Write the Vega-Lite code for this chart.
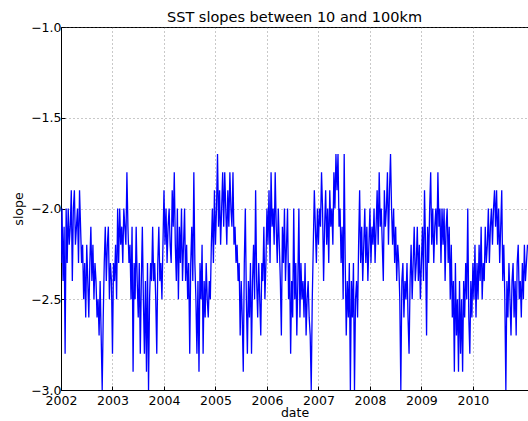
{
  "$schema": "https://vega.github.io/schema/vega-lite/v6.json",
  "autosize": "none",
  "width": 467,
  "height": 363,
  "padding": {"left": 61, "top": 27, "right": 0, "bottom": 31},
  "background": "white",
  "config": {
    "font": "DejaVu Sans",
    "view": {"stroke": "black", "strokeWidth": 1},
    "axis": {
      "labelFont": "DejaVu Sans", "labelFontSize": 12.5, "labelColor": "black",
      "titleFont": "DejaVu Sans", "titleFontSize": 12.5, "titleFontWeight": "normal", "titleColor": "black",
      "domainColor": "black", "tickColor": "black", "tickSize": -4,
      "gridColor": "#666666", "gridDash": [1, 3], "gridWidth": 0.7
    }
  },
  "title": {"text": "SST slopes between 10 and 100km", "fontSize": 14.5, "fontWeight": "normal", "font": "DejaVu Sans", "color": "black", "offset": -4},
  "data": {"values": [
{"t":2002.00,"v":-2.3},{"t":2002.02,"v":-2.0},{"t":2002.04,"v":-2.4},{"t":2002.06,"v":-2.1},{"t":2002.08,"v":-2.8},{"t":2002.10,"v":-2.0},{"t":2002.12,"v":-2.3},{"t":2002.14,"v":-2.0},{"t":2002.16,"v":-2.2},{"t":2002.18,"v":-2.1},
{"t":2002.20,"v":-1.9},{"t":2002.22,"v":-2.4},{"t":2002.24,"v":-2.0},{"t":2002.26,"v":-1.9},{"t":2002.28,"v":-2.2},{"t":2002.30,"v":-2.1},{"t":2002.32,"v":-2.0},{"t":2002.34,"v":-2.3},{"t":2002.36,"v":-1.9},{"t":2002.38,"v":-2.1},
{"t":2002.40,"v":-2.3},{"t":2002.42,"v":-2.2},{"t":2002.44,"v":-2.5},{"t":2002.46,"v":-2.3},{"t":2002.48,"v":-2.6},{"t":2002.50,"v":-2.2},{"t":2002.52,"v":-2.4},{"t":2002.54,"v":-2.6},{"t":2002.56,"v":-2.3},{"t":2002.58,"v":-2.1},
{"t":2002.60,"v":-2.4},{"t":2002.62,"v":-2.2},{"t":2002.64,"v":-2.5},{"t":2002.66,"v":-2.3},{"t":2002.68,"v":-2.4},{"t":2002.70,"v":-2.6},{"t":2002.72,"v":-2.5},{"t":2002.74,"v":-2.7},{"t":2002.76,"v":-2.4},{"t":2002.78,"v":-2.7},
{"t":2002.80,"v":-3.0},{"t":2002.82,"v":-2.6},{"t":2002.84,"v":-2.3},{"t":2002.86,"v":-2.1},{"t":2002.88,"v":-2.4},{"t":2002.90,"v":-2.2},{"t":2002.92,"v":-2.1},{"t":2002.94,"v":-2.5},{"t":2002.96,"v":-2.3},{"t":2002.98,"v":-2.4},
{"t":2003.00,"v":-2.8},{"t":2003.02,"v":-2.3},{"t":2003.04,"v":-2.4},{"t":2003.06,"v":-2.2},{"t":2003.08,"v":-2.5},{"t":2003.10,"v":-2.0},{"t":2003.12,"v":-2.3},{"t":2003.14,"v":-2.0},{"t":2003.16,"v":-2.2},{"t":2003.18,"v":-2.1},
{"t":2003.20,"v":-2.3},{"t":2003.22,"v":-2.0},{"t":2003.24,"v":-2.1},{"t":2003.26,"v":-2.2},{"t":2003.28,"v":-1.8},{"t":2003.30,"v":-2.1},{"t":2003.32,"v":-2.3},{"t":2003.34,"v":-2.2},{"t":2003.36,"v":-2.5},{"t":2003.38,"v":-2.1},
{"t":2003.40,"v":-2.9},{"t":2003.42,"v":-2.3},{"t":2003.44,"v":-2.5},{"t":2003.46,"v":-2.1},{"t":2003.48,"v":-2.4},{"t":2003.50,"v":-2.6},{"t":2003.52,"v":-2.3},{"t":2003.54,"v":-2.8},{"t":2003.56,"v":-2.4},{"t":2003.58,"v":-2.1},
{"t":2003.60,"v":-2.5},{"t":2003.62,"v":-2.8},{"t":2003.64,"v":-2.4},{"t":2003.66,"v":-2.9},{"t":2003.68,"v":-2.3},{"t":2003.70,"v":-3.0},{"t":2003.72,"v":-2.5},{"t":2003.74,"v":-2.3},{"t":2003.76,"v":-2.4},{"t":2003.78,"v":-2.1},
{"t":2003.80,"v":-2.4},{"t":2003.82,"v":-2.3},{"t":2003.84,"v":-2.5},{"t":2003.86,"v":-2.8},{"t":2003.88,"v":-2.3},{"t":2003.90,"v":-2.1},{"t":2003.92,"v":-2.4},{"t":2003.94,"v":-2.3},{"t":2003.96,"v":-2.5},{"t":2003.98,"v":-2.2},
{"t":2004.00,"v":-1.9},{"t":2004.02,"v":-2.2},{"t":2004.04,"v":-2.0},{"t":2004.06,"v":-2.3},{"t":2004.08,"v":-2.1},{"t":2004.10,"v":-2.0},{"t":2004.12,"v":-2.2},{"t":2004.14,"v":-2.3},{"t":2004.16,"v":-1.9},{"t":2004.18,"v":-2.1},
{"t":2004.20,"v":-1.8},{"t":2004.22,"v":-2.2},{"t":2004.24,"v":-2.4},{"t":2004.26,"v":-2.0},{"t":2004.28,"v":-2.5},{"t":2004.30,"v":-2.1},{"t":2004.32,"v":-2.3},{"t":2004.34,"v":-2.0},{"t":2004.36,"v":-2.4},{"t":2004.38,"v":-2.2},
{"t":2004.40,"v":-2.0},{"t":2004.42,"v":-2.4},{"t":2004.44,"v":-2.2},{"t":2004.46,"v":-2.5},{"t":2004.48,"v":-2.3},{"t":2004.50,"v":-2.8},{"t":2004.52,"v":-2.3},{"t":2004.54,"v":-2.1},{"t":2004.56,"v":-2.4},{"t":2004.58,"v":-1.8},
{"t":2004.60,"v":-2.3},{"t":2004.62,"v":-2.5},{"t":2004.64,"v":-2.8},{"t":2004.66,"v":-2.4},{"t":2004.68,"v":-2.9},{"t":2004.70,"v":-2.3},{"t":2004.72,"v":-2.5},{"t":2004.74,"v":-2.2},{"t":2004.76,"v":-2.8},{"t":2004.78,"v":-2.4},
{"t":2004.80,"v":-2.6},{"t":2004.82,"v":-2.3},{"t":2004.84,"v":-2.5},{"t":2004.86,"v":-2.6},{"t":2004.88,"v":-2.4},{"t":2004.90,"v":-2.5},{"t":2004.92,"v":-2.2},{"t":2004.94,"v":-2.0},{"t":2004.96,"v":-2.3},{"t":2004.98,"v":-1.9},
{"t":2005.00,"v":-2.2},{"t":2005.02,"v":-2.0},{"t":2005.04,"v":-1.7},{"t":2005.06,"v":-2.1},{"t":2005.08,"v":-1.9},{"t":2005.10,"v":-2.2},{"t":2005.12,"v":-2.0},{"t":2005.14,"v":-1.8},{"t":2005.16,"v":-2.1},{"t":2005.18,"v":-1.8},
{"t":2005.20,"v":-2.0},{"t":2005.22,"v":-2.2},{"t":2005.24,"v":-1.9},{"t":2005.26,"v":-2.1},{"t":2005.28,"v":-1.8},{"t":2005.30,"v":-2.0},{"t":2005.32,"v":-2.1},{"t":2005.34,"v":-1.8},{"t":2005.36,"v":-2.2},{"t":2005.38,"v":-2.1},
{"t":2005.40,"v":-2.3},{"t":2005.42,"v":-2.2},{"t":2005.44,"v":-2.4},{"t":2005.46,"v":-2.3},{"t":2005.48,"v":-2.7},{"t":2005.50,"v":-2.4},{"t":2005.52,"v":-2.6},{"t":2005.54,"v":-2.9},{"t":2005.56,"v":-2.3},{"t":2005.58,"v":-2.0},
{"t":2005.60,"v":-2.5},{"t":2005.62,"v":-2.8},{"t":2005.64,"v":-2.4},{"t":2005.66,"v":-2.6},{"t":2005.68,"v":-2.3},{"t":2005.70,"v":-2.8},{"t":2005.72,"v":-2.4},{"t":2005.74,"v":-2.2},{"t":2005.76,"v":-2.5},{"t":2005.78,"v":-1.9},
{"t":2005.80,"v":-2.4},{"t":2005.82,"v":-2.6},{"t":2005.84,"v":-2.3},{"t":2005.86,"v":-2.5},{"t":2005.88,"v":-2.7},{"t":2005.90,"v":-2.3},{"t":2005.92,"v":-2.4},{"t":2005.94,"v":-2.1},{"t":2005.96,"v":-2.5},{"t":2005.98,"v":-2.3},
{"t":2006.00,"v":-2.0},{"t":2006.02,"v":-2.2},{"t":2006.04,"v":-1.9},{"t":2006.06,"v":-2.3},{"t":2006.08,"v":-1.8},{"t":2006.10,"v":-2.1},{"t":2006.12,"v":-2.0},{"t":2006.14,"v":-2.2},{"t":2006.16,"v":-1.8},{"t":2006.18,"v":-2.1},
{"t":2006.20,"v":-2.3},{"t":2006.22,"v":-2.0},{"t":2006.24,"v":-2.2},{"t":2006.26,"v":-2.4},{"t":2006.28,"v":-2.7},{"t":2006.30,"v":-2.1},{"t":2006.32,"v":-2.3},{"t":2006.34,"v":-2.0},{"t":2006.36,"v":-2.4},{"t":2006.38,"v":-2.2},
{"t":2006.40,"v":-2.0},{"t":2006.42,"v":-2.5},{"t":2006.44,"v":-2.3},{"t":2006.46,"v":-2.8},{"t":2006.48,"v":-2.4},{"t":2006.50,"v":-2.6},{"t":2006.52,"v":-2.0},{"t":2006.54,"v":-2.5},{"t":2006.56,"v":-2.3},{"t":2006.58,"v":-2.7},
{"t":2006.60,"v":-2.4},{"t":2006.62,"v":-2.0},{"t":2006.64,"v":-2.6},{"t":2006.66,"v":-2.3},{"t":2006.68,"v":-2.5},{"t":2006.70,"v":-2.4},{"t":2006.72,"v":-2.6},{"t":2006.74,"v":-2.3},{"t":2006.76,"v":-2.7},{"t":2006.78,"v":-2.5},
{"t":2006.80,"v":-2.4},{"t":2006.82,"v":-2.6},{"t":2006.84,"v":-2.7},{"t":2006.86,"v":-3.0},{"t":2006.88,"v":-2.5},{"t":2006.90,"v":-2.2},{"t":2006.92,"v":-1.9},{"t":2006.94,"v":-2.1},{"t":2006.96,"v":-2.3},{"t":2006.98,"v":-2.0},
{"t":2007.00,"v":-2.2},{"t":2007.02,"v":-2.0},{"t":2007.04,"v":-2.1},{"t":2007.06,"v":-1.8},{"t":2007.08,"v":-2.0},{"t":2007.10,"v":-2.4},{"t":2007.12,"v":-2.1},{"t":2007.14,"v":-1.9},{"t":2007.16,"v":-2.2},{"t":2007.18,"v":-2.0},
{"t":2007.20,"v":-2.3},{"t":2007.22,"v":-1.9},{"t":2007.24,"v":-2.1},{"t":2007.26,"v":-2.0},{"t":2007.28,"v":-2.2},{"t":2007.30,"v":-1.8},{"t":2007.32,"v":-2.0},{"t":2007.34,"v":-1.7},{"t":2007.36,"v":-1.9},{"t":2007.38,"v":-1.7},
{"t":2007.40,"v":-2.1},{"t":2007.42,"v":-2.0},{"t":2007.44,"v":-2.3},{"t":2007.46,"v":-2.1},{"t":2007.48,"v":-2.5},{"t":2007.50,"v":-1.7},{"t":2007.52,"v":-2.3},{"t":2007.54,"v":-2.7},{"t":2007.56,"v":-2.4},{"t":2007.58,"v":-2.6},
{"t":2007.60,"v":-2.3},{"t":2007.62,"v":-3.0},{"t":2007.64,"v":-2.4},{"t":2007.66,"v":-2.6},{"t":2007.68,"v":-2.3},{"t":2007.70,"v":-3.0},{"t":2007.72,"v":-2.5},{"t":2007.74,"v":-2.4},{"t":2007.76,"v":-2.6},{"t":2007.78,"v":-2.2},
{"t":2007.80,"v":-1.9},{"t":2007.82,"v":-2.3},{"t":2007.84,"v":-2.1},{"t":2007.86,"v":-2.4},{"t":2007.88,"v":-2.2},{"t":2007.90,"v":-2.0},{"t":2007.92,"v":-2.3},{"t":2007.94,"v":-2.1},{"t":2007.96,"v":-2.4},{"t":2007.98,"v":-2.2},
{"t":2008.00,"v":-2.0},{"t":2008.02,"v":-2.3},{"t":2008.04,"v":-2.1},{"t":2008.06,"v":-2.2},{"t":2008.08,"v":-2.0},{"t":2008.10,"v":-2.3},{"t":2008.12,"v":-2.1},{"t":2008.14,"v":-1.9},{"t":2008.16,"v":-2.2},{"t":2008.18,"v":-1.8},
{"t":2008.20,"v":-2.1},{"t":2008.22,"v":-2.0},{"t":2008.24,"v":-2.2},{"t":2008.26,"v":-2.4},{"t":2008.28,"v":-1.9},{"t":2008.30,"v":-2.1},{"t":2008.32,"v":-2.0},{"t":2008.34,"v":-1.8},{"t":2008.36,"v":-2.2},{"t":2008.38,"v":-1.9},
{"t":2008.40,"v":-1.7},{"t":2008.42,"v":-2.0},{"t":2008.44,"v":-2.2},{"t":2008.46,"v":-2.0},{"t":2008.48,"v":-2.3},{"t":2008.50,"v":-2.1},{"t":2008.52,"v":-2.4},{"t":2008.54,"v":-2.2},{"t":2008.56,"v":-2.3},{"t":2008.58,"v":-2.5},
{"t":2008.60,"v":-3.0},{"t":2008.62,"v":-2.4},{"t":2008.64,"v":-2.3},{"t":2008.66,"v":-2.6},{"t":2008.68,"v":-2.4},{"t":2008.70,"v":-2.5},{"t":2008.72,"v":-2.3},{"t":2008.74,"v":-2.6},{"t":2008.76,"v":-2.8},{"t":2008.78,"v":-2.4},
{"t":2008.80,"v":-2.2},{"t":2008.82,"v":-2.5},{"t":2008.84,"v":-2.3},{"t":2008.86,"v":-2.1},{"t":2008.88,"v":-2.4},{"t":2008.90,"v":-2.3},{"t":2008.92,"v":-2.1},{"t":2008.94,"v":-2.4},{"t":2008.96,"v":-2.2},{"t":2008.98,"v":-2.5},
{"t":2009.00,"v":-2.3},{"t":2009.02,"v":-2.1},{"t":2009.04,"v":-2.4},{"t":2009.06,"v":-1.9},{"t":2009.08,"v":-2.2},{"t":2009.10,"v":-2.7},{"t":2009.12,"v":-2.1},{"t":2009.14,"v":-2.3},{"t":2009.16,"v":-2.0},{"t":2009.18,"v":-1.8},
{"t":2009.20,"v":-2.2},{"t":2009.22,"v":-2.0},{"t":2009.24,"v":-2.3},{"t":2009.26,"v":-2.1},{"t":2009.28,"v":-2.0},{"t":2009.30,"v":-2.2},{"t":2009.32,"v":-1.8},{"t":2009.34,"v":-2.1},{"t":2009.36,"v":-2.0},{"t":2009.38,"v":-2.3},
{"t":2009.40,"v":-2.0},{"t":2009.42,"v":-2.2},{"t":2009.44,"v":-2.0},{"t":2009.46,"v":-2.4},{"t":2009.48,"v":-2.1},{"t":2009.50,"v":-2.0},{"t":2009.52,"v":-2.3},{"t":2009.54,"v":-2.1},{"t":2009.56,"v":-2.5},{"t":2009.58,"v":-2.2},
{"t":2009.60,"v":-2.6},{"t":2009.62,"v":-2.4},{"t":2009.64,"v":-2.9},{"t":2009.66,"v":-2.3},{"t":2009.68,"v":-2.7},{"t":2009.70,"v":-2.5},{"t":2009.72,"v":-2.9},{"t":2009.74,"v":-2.4},{"t":2009.76,"v":-2.8},{"t":2009.78,"v":-2.5},
{"t":2009.80,"v":-2.9},{"t":2009.82,"v":-2.4},{"t":2009.84,"v":-2.6},{"t":2009.86,"v":-2.3},{"t":2009.88,"v":-2.5},{"t":2009.90,"v":-2.0},{"t":2009.92,"v":-2.6},{"t":2009.94,"v":-2.8},{"t":2009.96,"v":-2.4},{"t":2009.98,"v":-2.6},
{"t":2010.00,"v":-2.3},{"t":2010.02,"v":-2.5},{"t":2010.04,"v":-2.2},{"t":2010.06,"v":-2.6},{"t":2010.08,"v":-2.3},{"t":2010.10,"v":-2.5},{"t":2010.12,"v":-2.2},{"t":2010.14,"v":-2.4},{"t":2010.16,"v":-2.1},{"t":2010.18,"v":-2.5},
{"t":2010.20,"v":-2.3},{"t":2010.22,"v":-2.4},{"t":2010.24,"v":-2.1},{"t":2010.26,"v":-2.3},{"t":2010.28,"v":-2.2},{"t":2010.30,"v":-2.0},{"t":2010.32,"v":-2.3},{"t":2010.34,"v":-2.1},{"t":2010.36,"v":-2.0},{"t":2010.38,"v":-2.2},
{"t":2010.40,"v":-2.0},{"t":2010.42,"v":-1.9},{"t":2010.44,"v":-2.1},{"t":2010.46,"v":-1.9},{"t":2010.48,"v":-2.2},{"t":2010.50,"v":-2.0},{"t":2010.52,"v":-2.3},{"t":2010.54,"v":-2.1},{"t":2010.56,"v":-1.9},{"t":2010.58,"v":-2.4},
{"t":2010.60,"v":-2.2},{"t":2010.62,"v":-2.5},{"t":2010.64,"v":-3.0},{"t":2010.66,"v":-2.4},{"t":2010.68,"v":-2.6},{"t":2010.70,"v":-2.3},{"t":2010.72,"v":-2.5},{"t":2010.74,"v":-2.7},{"t":2010.76,"v":-2.4},{"t":2010.78,"v":-2.3},
{"t":2010.80,"v":-2.6},{"t":2010.82,"v":-2.4},{"t":2010.84,"v":-2.7},{"t":2010.86,"v":-2.3},{"t":2010.88,"v":-2.2},{"t":2010.90,"v":-2.5},{"t":2010.92,"v":-2.4},{"t":2010.94,"v":-2.6},{"t":2010.96,"v":-2.3},{"t":2010.98,"v":-2.5},
{"t":2011.00,"v":-2.2},{"t":2011.02,"v":-2.4},{"t":2011.04,"v":-2.3},{"t":2011.06,"v":-2.2}
  ]},
  "mark": {"type": "line", "color": "#0000ff", "strokeWidth": 1.3, "clip": true},
  "encoding": {
    "x": {
      "field": "t", "type": "quantitative", "title": "date",
      "scale": {"domain": [2002, 2011.07], "nice": false, "zero": false},
      "axis": {"values": [2002, 2003, 2004, 2005, 2006, 2007, 2008, 2009, 2010], "format": "d", "labelPadding": 8, "titlePadding": 0, "labelFlush": false}
    },
    "y": {
      "field": "v", "type": "quantitative", "title": "slope",
      "scale": {"domain": [-3, -1], "nice": false, "zero": false},
      "axis": {"values": [-3, -2.5, -2, -1.5, -1], "format": ".1f", "labelPadding": 4, "titlePadding": 5}
    }
  }
}
